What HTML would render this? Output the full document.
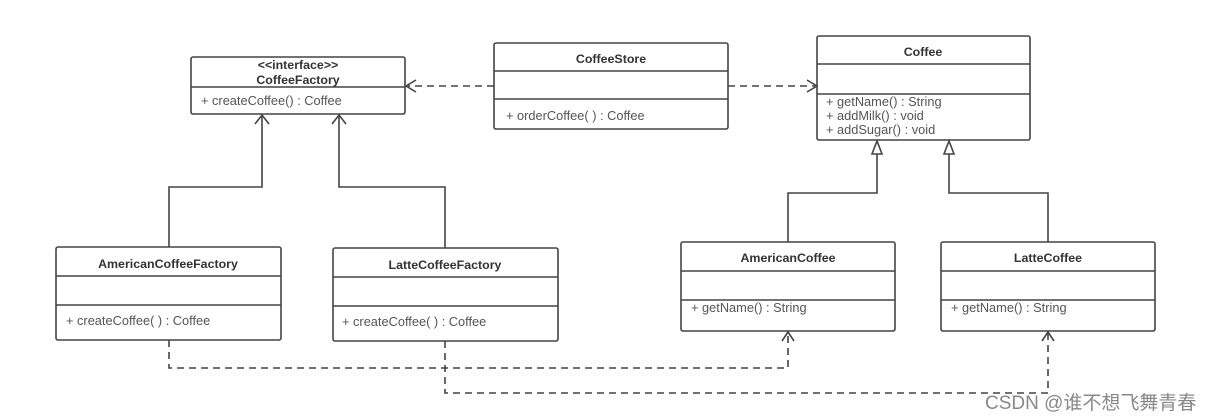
<!DOCTYPE html>
<html><head><meta charset="utf-8"><style>
body{margin:0;background:#fff;width:1212px;height:419px;overflow:hidden}
svg{display:block}
svg text{font-family:"Liberation Sans",sans-serif;fill:#555;font-size:12.8px}
.t{font-weight:bold;fill:#333;font-size:12.4px}
</style></head><body>
<svg width="1212" height="419" viewBox="0 0 1212 419">
<g fill="none" stroke="#444" stroke-width="1.6">
<rect x="191" y="57" width="214" height="57" rx="2"/>
<line x1="191" y1="87" x2="405" y2="87"/>
<rect x="494" y="43" width="234" height="86" rx="2"/>
<line x1="494" y1="71" x2="728" y2="71"/><line x1="494" y1="99" x2="728" y2="99"/>
<rect x="817" y="36" width="213" height="104" rx="2"/>
<line x1="817" y1="64" x2="1030" y2="64"/><line x1="817" y1="94" x2="1030" y2="94"/>
<rect x="56" y="247" width="225" height="93" rx="2"/>
<line x1="56" y1="276" x2="281" y2="276"/><line x1="56" y1="305" x2="281" y2="305"/>
<rect x="333" y="248" width="225" height="93" rx="2"/>
<line x1="333" y1="277" x2="558" y2="277"/><line x1="333" y1="306" x2="558" y2="306"/>
<rect x="681" y="242" width="214" height="89" rx="2"/>
<line x1="681" y1="271" x2="895" y2="271"/><line x1="681" y1="300" x2="895" y2="300"/>
<rect x="941" y="242" width="214" height="89" rx="2"/>
<line x1="941" y1="271" x2="1155" y2="271"/><line x1="941" y1="300" x2="1155" y2="300"/>
<polyline points="169,247 169,187 262,187 262,115"/>
<polyline points="445,248 445,187 339,187 339,115"/>
<polyline points="255,124 262,115 269,124"/>
<polyline points="332,124 339,115 346,124"/>
<polyline points="788,242 788,193 877,193 877,154"/>
<polyline points="1048,242 1048,193 949,193 949,154"/>
<polygon points="877,141 872,154 882,154"/>
<polygon points="949,141 944,154 954,154"/>
</g>
<g fill="none" stroke="#444" stroke-width="1.6" stroke-dasharray="7,5">
<line x1="494" y1="86" x2="408" y2="86"/>
<line x1="728" y1="86" x2="815" y2="86"/>
<polyline points="169,340 169,368 788,368 788,333"/>
<polyline points="445,341 445,393 1048,393 1048,333"/>
</g>
<g fill="none" stroke="#444" stroke-width="1.6">
<polyline points="416,80 406,86 416,92"/>
<polyline points="807,80 817,86 807,92"/>
<polyline points="782,341 788,332 794,341"/>
<polyline points="1042,341 1048,332 1054,341"/>
</g>
<text class="t" x="298" y="69" text-anchor="middle">&lt;&lt;interface&gt;&gt;</text>
<text class="t" x="298" y="84" text-anchor="middle">CoffeeFactory</text>
<text x="201" y="105">+ createCoffee() : Coffee</text>
<text class="t" x="611" y="63" text-anchor="middle">CoffeeStore</text>
<text x="506" y="120">+ orderCoffee( ) : Coffee</text>
<text class="t" x="923" y="56" text-anchor="middle">Coffee</text>
<text x="826" y="106">+ getName() : String</text>
<text x="826" y="120">+ addMilk() : void</text>
<text x="826" y="134">+ addSugar() : void</text>
<text class="t" x="168" y="268" text-anchor="middle">AmericanCoffeeFactory</text>
<text x="66" y="325">+ createCoffee( ) : Coffee</text>
<text class="t" x="445" y="269" text-anchor="middle">LatteCoffeeFactory</text>
<text x="342" y="326">+ createCoffee( ) : Coffee</text>
<text class="t" x="788" y="262" text-anchor="middle">AmericanCoffee</text>
<text x="691" y="312">+ getName() : String</text>
<text class="t" x="1048" y="262" text-anchor="middle">LatteCoffee</text>
<text x="951" y="312">+ getName() : String</text>
<text x="985" y="409" style="font-size:19px;fill:#888;font-family:'Liberation Sans','Noto Sans CJK SC',sans-serif">CSDN @谁不想飞舞青春</text>
</svg>
</body></html>
